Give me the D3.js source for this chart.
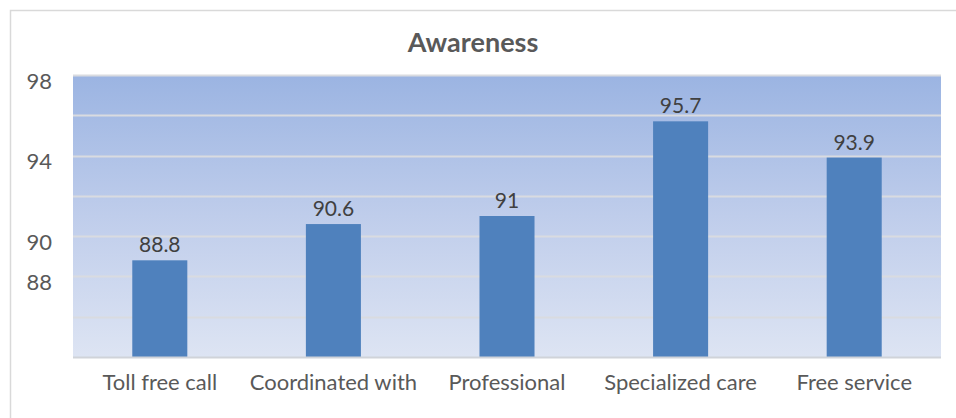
<!DOCTYPE html>
<html>
<head>
<meta charset="utf-8">
<script src="https://cdn.jsdelivr.net/npm/d3@7"></script>
<style>
  body { margin: 0; background: #fff; }
  svg { display: block; }
  text { font-family: Lato, "Open Sans", sans-serif; }
</style>
</head>
<body>
<svg id="chart" width="956" height="418"></svg>
<script>
// data
var categories = ["Toll free call", "Coordinated with", "Professional", "Specialized care", "Free service"];
var awareness = [88.8, 90.6, 91, 95.7, 93.9];
var tickLabels = [98, 94, 90, 88];
var gridValues = [86, 88, 90, 92, 94, 96, 98];
var title = "Awareness";

var width = 956, height = 418;
var plot = { left: 73, right: 941, top: 75, bottom: 357 };

var svg = d3.select("#chart");

// outer chart frame (right / bottom edges run off the picture)
svg.append("rect")
    .attr("x", 10.5).attr("y", 10.5)
    .attr("width", width + 20).attr("height", height + 20)
    .attr("fill", "#fff")
    .attr("stroke", "#d9d9d9").attr("stroke-width", 1.5);

var x = d3.scaleBand()
    .domain(categories)
    .range([plot.left, plot.right])
    .paddingInner(0.683)
    .paddingOuter(0.3415);

var y = d3.scaleLinear()
    .domain([84, 98])
    .range([plot.bottom, plot.top]);

// plot background gradient
var defs = svg.append("defs");
var grad = defs.append("linearGradient")
    .attr("id", "bg").attr("x1", 0).attr("y1", 0).attr("x2", 0).attr("y2", 1);
grad.append("stop").attr("offset", "0%").attr("stop-color", "#9bb4e2");
grad.append("stop").attr("offset", "50%").attr("stop-color", "#bfcdeb");
grad.append("stop").attr("offset", "100%").attr("stop-color", "#dde4f3");

svg.append("rect")
    .attr("x", plot.left).attr("y", plot.top)
    .attr("width", plot.right - plot.left)
    .attr("height", plot.bottom - plot.top)
    .attr("fill", "url(#bg)");

// gridlines
svg.append("g").attr("class", "grid")
    .selectAll("line")
    .data(gridValues)
    .enter().append("line")
    .attr("x1", plot.left).attr("x2", plot.right)
    .attr("y1", function (d) { return Math.round(y(d)) + 0.5; })
    .attr("y2", function (d) { return Math.round(y(d)) + 0.5; })
    .attr("stroke", "#d9dbe0").attr("stroke-width", 2);

// bars
svg.append("g").attr("class", "bars")
    .selectAll("rect")
    .data(awareness)
    .enter().append("rect")
    .attr("x", function (d, i) { return x(categories[i]); })
    .attr("y", function (d) { return y(d); })
    .attr("width", x.bandwidth())
    .attr("height", function (d) { return y(84) - y(d); })
    .attr("fill", "#4f81bd");

// category axis line
svg.append("line")
    .attr("x1", plot.left).attr("x2", plot.right)
    .attr("y1", plot.bottom + 0.5).attr("y2", plot.bottom + 0.5)
    .attr("stroke", "#d0d3d9").attr("stroke-width", 2);

// value labels
svg.append("g").attr("class", "labels")
    .selectAll("text")
    .data(awareness)
    .enter().append("text")
    .attr("x", function (d, i) { return x(categories[i]) + x.bandwidth() / 2; })
    .attr("y", function (d) { return y(d) - 8; })
    .attr("text-anchor", "middle")
    .attr("font-size", 21)
    .attr("fill", "#404040")
    .text(function (d) { return d; });

// y axis labels
var yAxis = d3.axisLeft(y).tickValues(tickLabels).tickSize(0).tickPadding(0);
var yg = svg.append("g")
    .attr("transform", "translate(52,6)")
    .call(yAxis);
yg.select(".domain").remove();
yg.selectAll("text")
    .attr("font-size", 22)
    .attr("font-family", "Lato, 'Open Sans', sans-serif")
    .attr("fill", "#595959");

// x axis labels
var xAxis = d3.axisBottom(x).tickSize(0).tickPadding(0);
var xg = svg.append("g")
    .attr("transform", "translate(0," + (plot.bottom + 17) + ")")
    .call(xAxis);
xg.select(".domain").remove();
xg.selectAll("text")
    .attr("font-size", 22)
    .attr("font-family", "Lato, 'Open Sans', sans-serif")
    .attr("fill", "#595959");

// title
svg.append("text")
    .attr("x", 473).attr("y", 52)
    .attr("text-anchor", "middle")
    .attr("font-size", 27)
    .attr("font-weight", "bold")
    .attr("fill", "#595959")
    .text(title);
</script>
</body>
</html>
